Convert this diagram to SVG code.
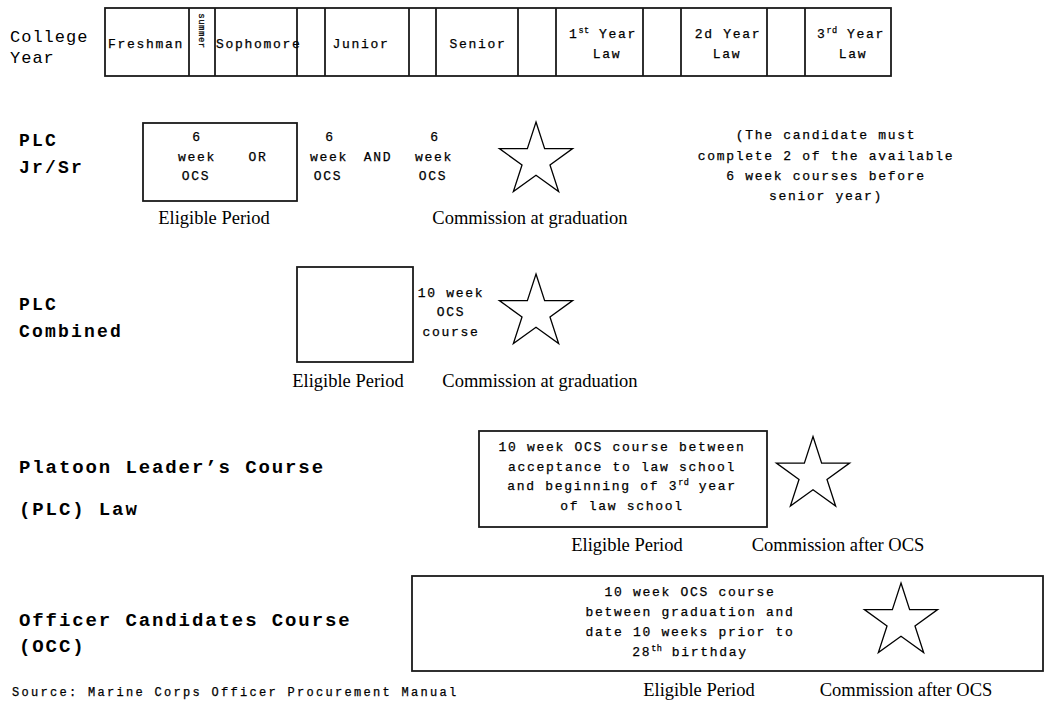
<svg xmlns="http://www.w3.org/2000/svg" width="1045" height="702" viewBox="0 0 1045 702">
  <style>
    .bg { fill: #ffffff; }
    .frame { fill: none; stroke: #1a1a1a; stroke-width: 1.8; }
    .rule { stroke: #1a1a1a; stroke-width: 1.8; }
    .mono { font-family: "Liberation Mono", "Courier New", monospace; font-size: 13px; letter-spacing: 1.7px; fill: #000; stroke: #000; stroke-width: 0.25px; }
    .cap { font-family: "Liberation Mono", "Courier New", monospace; font-size: 17px; letter-spacing: 1px; fill: #000; }
    .head { font-family: "Liberation Mono", "Courier New", monospace; font-size: 18px; font-weight: bold; letter-spacing: 2.2px; fill: #000; }
    .wide { font-size: 19px; letter-spacing: 1.9px; }
    .serif { font-family: "Liberation Serif", "Times New Roman", serif; font-size: 18.5px; fill: #000; }
    .mid { text-anchor: middle; }
    .sup { font-size: 8.5px; letter-spacing: 0.4px; }
    .star { fill: none; stroke: #000; stroke-width: 1.3; stroke-linejoin: miter; }
  </style>
  <defs>
    <!-- five-point star, outer radius 38.5, centred on the origin -->
    <polygon id="star" class="star" points="0,-38.5 8.64,-11.9 36.61,-11.9 13.98,4.54 22.63,31.15 0,14.71 -22.63,31.15 -13.98,4.54 -36.61,-11.9 -8.64,-11.9"/>
  </defs>
  <rect class="bg" x="0" y="0" width="1045" height="702"/>

  <!-- year-by-year timeline header -->
  <g id="college-year">
    <text class="cap" x="10" y="42">College</text>
    <text class="cap" x="10" y="63">Year</text>
    <rect class="frame" x="105" y="8" width="786" height="68"/>
    <line class="rule" x1="189" y1="8" x2="189" y2="76"/>
    <line class="rule" x1="215" y1="8" x2="215" y2="76"/>
    <line class="rule" x1="297" y1="8" x2="297" y2="76"/>
    <line class="rule" x1="325" y1="8" x2="325" y2="76"/>
    <line class="rule" x1="409" y1="8" x2="409" y2="76"/>
    <line class="rule" x1="436" y1="8" x2="436" y2="76"/>
    <line class="rule" x1="518" y1="8" x2="518" y2="76"/>
    <line class="rule" x1="556" y1="8" x2="556" y2="76"/>
    <line class="rule" x1="643" y1="8" x2="643" y2="76"/>
    <line class="rule" x1="681" y1="8" x2="681" y2="76"/>
    <line class="rule" x1="767" y1="8" x2="767" y2="76"/>
    <line class="rule" x1="805" y1="8" x2="805" y2="76"/>
    <text class="mono mid" x="146" y="48">Freshman</text>
    <text class="mono mid" style="font-size:9px;letter-spacing:0.5px" transform="translate(199,31) rotate(90)">summer</text>
    <text class="mono" x="216" y="48">Sophomore</text>
    <text class="mono mid" x="361" y="48">Junior</text>
    <text class="mono mid" x="478" y="48">Senior</text>
    <text class="mono mid" x="603" y="38">1<tspan class="sup" dy="-5">st</tspan><tspan dy="5"> Year</tspan></text>
    <text class="mono mid" x="607" y="58">Law</text>
    <text class="mono mid" x="728" y="38">2d Year</text>
    <text class="mono mid" x="727" y="58">Law</text>
    <text class="mono mid" x="851" y="38">3<tspan class="sup" dy="-5">rd</tspan><tspan dy="5"> Year</tspan></text>
    <text class="mono mid" x="853" y="58">Law</text>
  </g>

  <!-- PLC junior / senior track -->
  <g id="plc-jr-sr">
    <text class="head" x="19" y="146">PLC</text>
    <text class="head" x="19" y="173">Jr/Sr</text>
    <rect class="frame" x="143" y="123" width="154" height="78"/>
    <text class="mono mid" x="197" y="141">6</text>
    <text class="mono mid" x="197" y="161">week</text>
    <text class="mono mid" x="196" y="180">OCS</text>
    <text class="mono mid" x="258" y="161">OR</text>
    <text class="mono mid" x="330" y="141">6</text>
    <text class="mono mid" x="329" y="161">week</text>
    <text class="mono mid" x="328" y="180">OCS</text>
    <text class="mono mid" x="378" y="161">AND</text>
    <text class="mono mid" x="435" y="141">6</text>
    <text class="mono mid" x="434" y="161">week</text>
    <text class="mono mid" x="433" y="180">OCS</text>
    <use href="#star" x="536" y="160.5"/>
    <text class="serif mid" x="214" y="224">Eligible Period</text>
    <text class="serif mid" x="530" y="224">Commission at graduation</text>
    <text class="mono mid" x="826" y="139">(The candidate must</text>
    <text class="mono mid" x="826" y="160">complete 2 of the available</text>
    <text class="mono mid" x="826" y="180">6 week courses before</text>
    <text class="mono mid" x="826" y="200">senior year)</text>
  </g>

  <!-- PLC combined track -->
  <g id="plc-combined">
    <text class="head" x="19" y="310">PLC</text>
    <text class="head" x="19" y="337">Combined</text>
    <rect class="frame" x="297" y="267" width="116" height="95"/>
    <text class="mono mid" x="451" y="297">10 week</text>
    <text class="mono mid" x="451" y="316">OCS</text>
    <text class="mono mid" x="451" y="336">course</text>
    <use href="#star" x="536" y="312.5"/>
    <text class="serif mid" x="348" y="387">Eligible Period</text>
    <text class="serif mid" x="540" y="387">Commission at graduation</text>
  </g>

  <!-- PLC law track -->
  <g id="plc-law">
    <text class="head wide" x="19" y="473">Platoon Leader’s Course</text>
    <text class="head wide" x="19" y="515">(PLC) Law</text>
    <rect class="frame" x="479" y="431" width="288" height="96"/>
    <text class="mono mid" x="622" y="451">10 week OCS course between</text>
    <text class="mono mid" x="622" y="471">acceptance to law school</text>
    <text class="mono mid" x="622" y="490">and beginning of 3<tspan class="sup" dy="-5">rd</tspan><tspan dy="5"> year</tspan></text>
    <text class="mono mid" x="622" y="510">of law school</text>
    <use href="#star" x="813" y="475"/>
    <text class="serif mid" x="627" y="551">Eligible Period</text>
    <text class="serif mid" x="838" y="551">Commission after OCS</text>
  </g>

  <!-- officer candidates course track -->
  <g id="occ">
    <text class="head wide" x="19" y="626">Officer Candidates Course</text>
    <text class="head wide" x="19" y="652">(OCC)</text>
    <rect class="frame" x="412" y="576" width="631" height="95"/>
    <text class="mono mid" x="690" y="596">10 week OCS course</text>
    <text class="mono mid" x="690" y="616">between graduation and</text>
    <text class="mono mid" x="690" y="636">date 10 weeks prior to</text>
    <text class="mono mid" x="690" y="656">28<tspan class="sup" dy="-5">th</tspan><tspan dy="5"> birthday</tspan></text>
    <use href="#star" x="901" y="621.5"/>
    <text class="serif mid" x="699" y="696">Eligible Period</text>
    <text class="serif mid" x="906" y="696">Commission after OCS</text>
  </g>

  <g id="source">
    <text class="mono" x="12" y="696" style="font-size:12px;letter-spacing:2.3px">Source:  Marine Corps Officer Procurement Manual</text>
  </g>

  <!-- no connectors in this chart -->
  <g id="connectors"/>
</svg>
